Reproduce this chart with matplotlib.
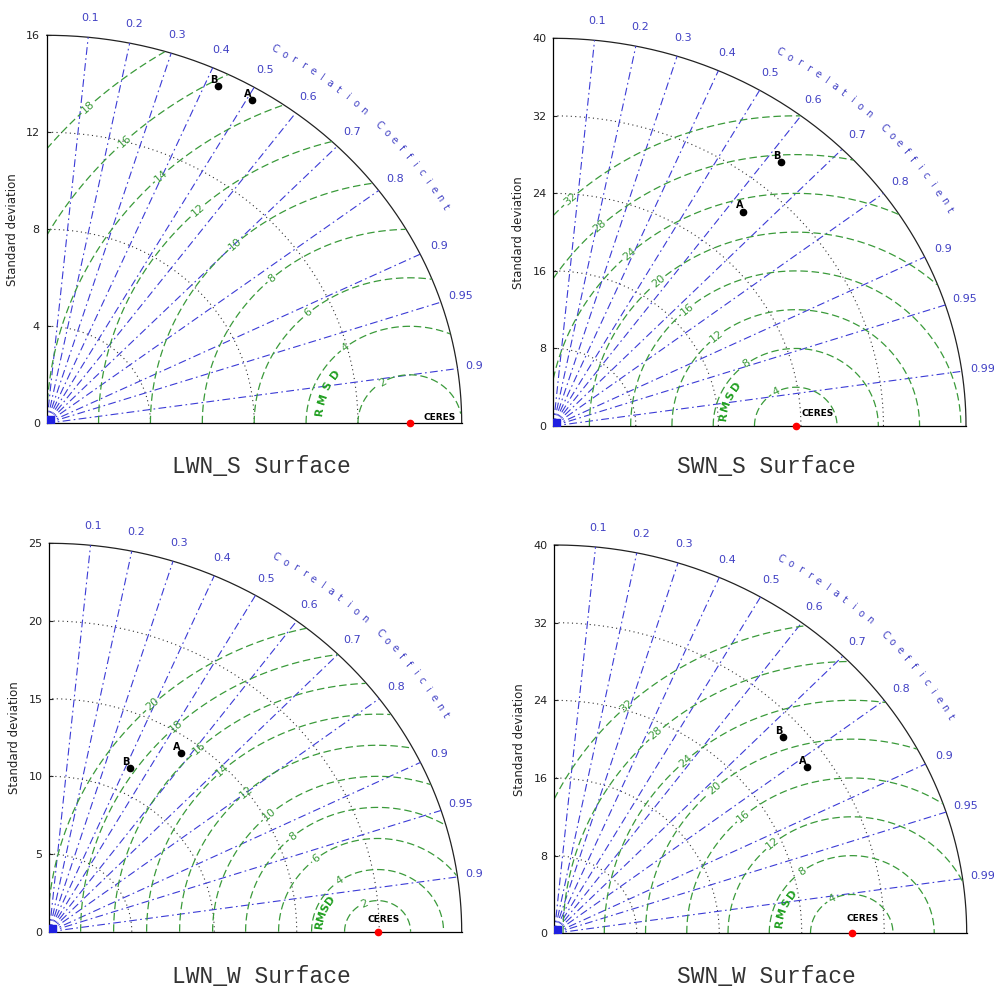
import numpy as np
import matplotlib
matplotlib.use("Agg")
import matplotlib.pyplot as plt
from matplotlib.transforms import Bbox, TransformedBbox

# Taylor diagrams, four surface fluxes compared against CERES
titles = ["LWN_S Surface", "SWN_S Surface", "LWN_W Surface", "SWN_W Surface"]
ref_name = "CERES"
ref_std = [14.0, 23.5, 19.9, 28.85]

# models A and B: standard deviation and correlation with CERES
a_std = [15.5, 28.8, 14.0, 29.9]
a_cor = [0.51, 0.64, 0.57, 0.82]
b_std = [15.4, 35.1, 11.6, 30.0]
b_cor = [0.43, 0.63, 0.42, 0.74]

std_max = [16, 40, 25, 40]
std_ticks = [
    [0, 4, 8, 12, 16],
    [0, 8, 16, 24, 32, 40],
    [0, 5, 10, 15, 20, 25],
    [0, 8, 16, 24, 32, 40],
]
rms_levels = [
    [2, 4, 6, 8, 10, 12, 14, 16, 18],
    [4, 8, 12, 16, 20, 24, 28, 32],
    [2, 4, 6, 8, 10, 12, 14, 16, 18, 20],
    [4, 8, 12, 16, 20, 24, 28, 32],
]
cor_ticks = [0.1, 0.2, 0.3, 0.4, 0.5, 0.6, 0.7, 0.8, 0.9, 0.95, 0.99]

# layout in pixels: origin x, origin y, box width, box height, panel region
W, H = 994, 992
panels = [
    (46.7, 423.3, 415.0, 388.0, (0, 0, 482, 492)),
    (553.3, 426.0, 412.7, 387.7, (500, 0, 994, 492)),
    (49.3, 931.7, 412.4, 388.4, (0, 500, 482, 992)),
    (554.3, 933.3, 412.4, 388.3, (500, 500, 994, 992)),
]
title_pos = [(261, 467), (766, 467), (261, 977), (766, 977)]
ceres_off = [(10, 4), (4, 9), (-7, 9), (-4, 11)]

blue_line = "#3b3bd6"
blue_text = "#4040c4"
green = "#3a9a3a"

fig = plt.figure(figsize=(W / 100, H / 100), dpi=100)
th = np.linspace(0, np.pi / 2, 300)

for i in range(4):
    ox, oy, w, h, reg = panels[i]
    rmax = std_max[i]
    ref = ref_std[i]
    ax = fig.add_axes([ox / W, 1 - oy / H, w / W, h / H])
    ax.patch.set_visible(False)
    ax.set_xlim(0, rmax)
    ax.set_ylim(0, rmax)
    ax.spines["top"].set_visible(False)
    ax.spines["right"].set_visible(False)
    ax.spines["left"].set_linewidth(0.9)
    ax.spines["bottom"].set_linewidth(0.9)
    ax.set_xticks([])
    ax.set_yticks(std_ticks[i])
    ax.tick_params(axis="y", direction="in", length=3, labelsize=8, pad=5, colors="#222222")
    ax.set_ylabel("Standard deviation", fontsize=8.5, color="#222222")
    ax.yaxis.set_label_coords(-28 / w, 0.5)

    x0, y0, x1, y1 = reg
    clip = TransformedBbox(Bbox([[x0 / W, 1 - y1 / H], [x1 / W, 1 - y0 / H]]), fig.transFigure)

    # std dev circles
    for s in std_ticks[i][1:-1]:
        ax.plot(s * np.cos(th), s * np.sin(th), color="#333333", lw=0.8, ls=(0, (1, 3)))
    ax.plot(rmax * np.cos(th), rmax * np.sin(th), color="#222222", lw=0.9, clip_on=False)

    # correlation lines
    for c in cor_ticks:
        sn = np.sqrt(1 - c * c)
        ax.plot([0, rmax * c], [0, rmax * sn], color=blue_line, lw=0.8, dashes=(7, 3, 1.5, 3))
        t = ax.text(1.05 * rmax * c, 1.05 * rmax * sn, f"{c:g}", color=blue_text,
                    fontsize=8, ha="center", va="center", clip_on=True)
        t.set_clip_path(None)
        t.set_clip_box(clip)
    ax.plot(0, 0, "s", color="#2020e0", ms=10, zorder=4)

    label = "Correlation Coefficient"
    for ch, a in zip(label, np.linspace(60.3, 30.1, len(label))):
        r = np.deg2rad(a)
        t = ax.text(1.11 * rmax * np.cos(r), 1.11 * rmax * np.sin(r), ch, rotation=a - 90,
                    transform_rotates_text=True, rotation_mode="anchor",
                    ha="center", va="center", fontsize=7, color=blue_text, clip_on=True)
        t.set_clip_path(None)
        t.set_clip_box(clip)

    # RMSD contours around the reference
    g = np.linspace(0, rmax, 400)
    X, Y = np.meshgrid(g, g)
    Z = np.ma.masked_where(np.hypot(X, Y) > rmax, np.hypot(X - ref, Y))
    cs = ax.contour(X, Y, Z, levels=rms_levels[i], colors=green, linewidths=0.9)
    cs.set_linestyle((0, (6, 3)))
    # labels sit along a diagonal line through the reference point
    d = 0.04 * rmax
    pos = []
    for L in rms_levels[i]:
        u = (d - np.sqrt(2 * L * L - d * d)) / 2
        pos.append((ref + u, d - u))
    ax.clabel(cs, fmt="%d", fontsize=8, colors=green, manual=pos, inline=True, inline_spacing=2)

    rr = 0.88 * rms_levels[i][1]
    for k, ch in enumerate("RMSD"):
        a = 172 - k * 9
        r = np.deg2rad(a)
        ax.text(ref + rr * np.cos(r), rr * np.sin(r), ch, rotation=a - 90,
                transform_rotates_text=True, rotation_mode="anchor",
                ha="center", va="center", fontsize=8, fontweight="bold", color="#22a022")

    # reference and model points
    ax.plot(ref, 0, "o", color="red", ms=4.5, clip_on=False, zorder=6)
    ax.annotate(ref_name, (ref, 0), xytext=ceres_off[i], textcoords="offset points",
                fontsize=6.5, fontweight="bold", ha="left", va="center")
    for name, s, c in [("A", a_std[i], a_cor[i]), ("B", b_std[i], b_cor[i])]:
        x, y = s * c, s * np.sqrt(1 - c * c)
        ax.plot(x, y, "o", color="black", ms=4.5, zorder=6)
        ax.annotate(name, (x, y), xytext=(-3, 4.5), textcoords="offset points",
                    fontsize=7, fontweight="bold", ha="center", va="center")

    tx, ty = title_pos[i]
    fig.text(tx / W, 1 - ty / H, titles[i], family="Liberation Mono", fontsize=16.5,
             color="#333333", ha="center", va="center")

fig.savefig("out.png", dpi=100)
